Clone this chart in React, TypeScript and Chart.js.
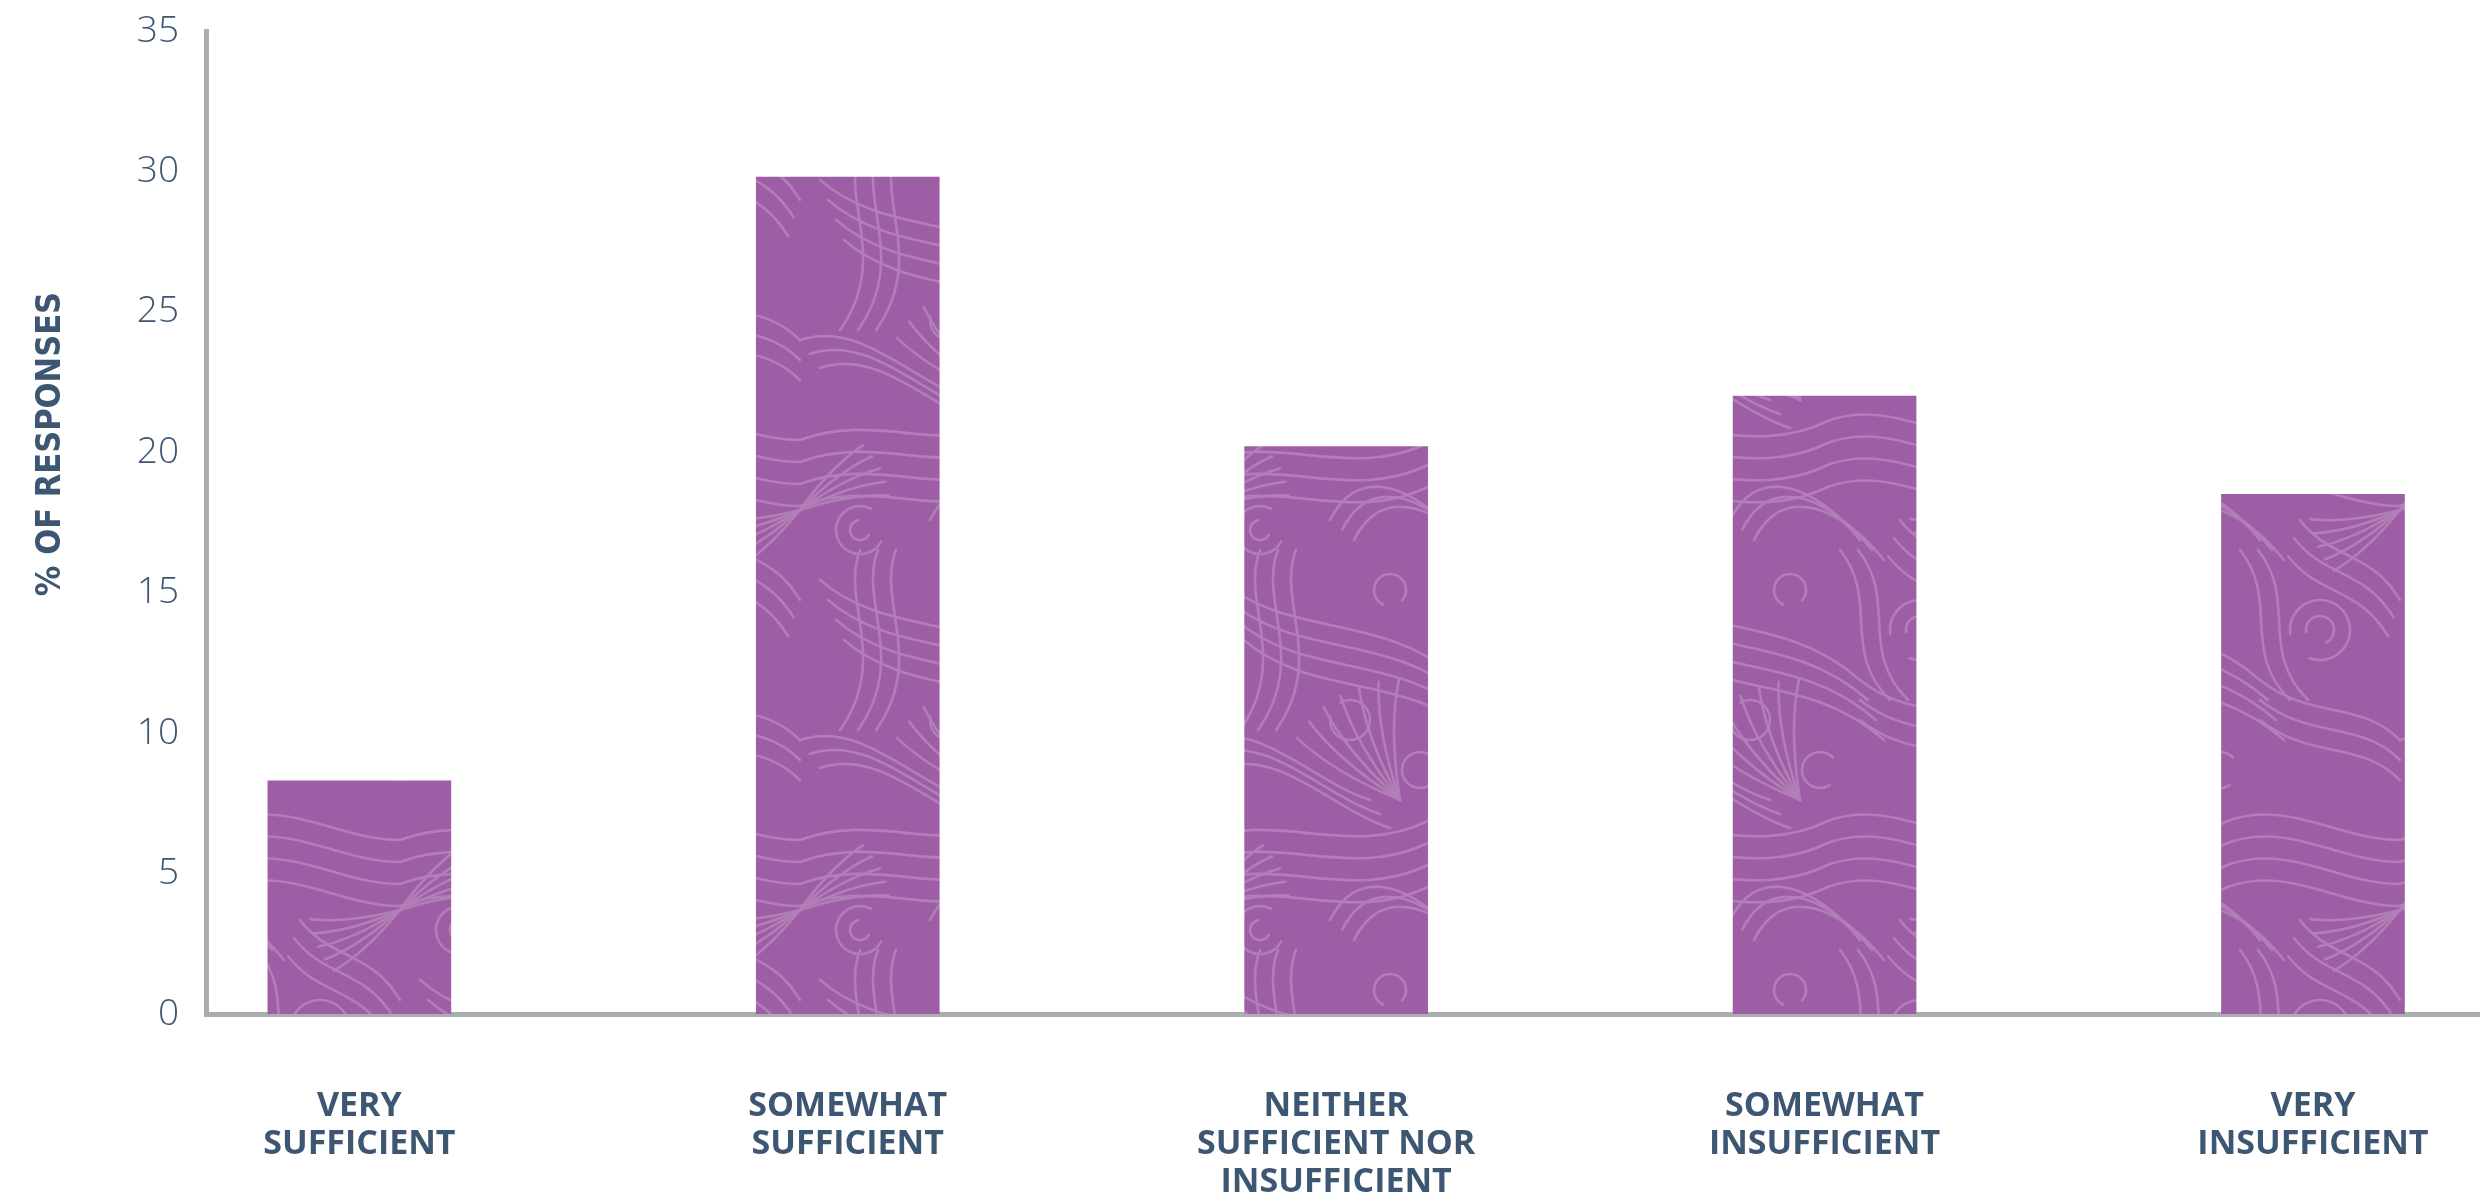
import { useEffect, useRef } from "react";
import { Chart, registerables } from "chart.js";
Chart.register(...registerables);

const categories: string[][] = [
  ["VERY", "SUFFICIENT"],
  ["SOMEWHAT", "SUFFICIENT"],
  ["NEITHER", "SUFFICIENT NOR", "INSUFFICIENT"],
  ["SOMEWHAT", "INSUFFICIENT"],
  ["VERY", "INSUFFICIENT"],
];
const responses: number[] = [8.3, 29.8, 20.2, 22.0, 18.5];
const yTicks: number[] = [0, 5, 10, 15, 20, 25, 30, 35];
const yTitle = "% OF RESPONSES";

const TEXT = "#3d5672";
const AXIS = "#a9aeb1";
const BAR = "#9e5ea6";
const SWIRL = "#b17eb8";

function makePattern(): CanvasPattern | string {
  const S = 400;
  const c = document.createElement("canvas");
  c.width = S;
  c.height = S;
  const g = c.getContext("2d");
  if (!g) return BAR;
  g.fillStyle = BAR;
  g.fillRect(0, 0, S, S);
  g.strokeStyle = SWIRL;
  g.lineWidth = 2.6;
  g.lineCap = "round";
  const offs = [-S, 0, S];
  const each = (fn: () => void) => {
    for (const dx of offs)
      for (const dy of offs) {
        g.save();
        g.translate(dx, dy);
        fn();
        g.restore();
      }
  };
  const bez = (p: number[]) => {
    g.beginPath();
    g.moveTo(p[0], p[1]);
    g.bezierCurveTo(p[2], p[3], p[4], p[5], p[6], p[7]);
    g.stroke();
  };
  const family = (p: number[], n: number, dx: number, dy: number) => {
    for (let k = 0; k < n; k++) {
      bez(p.map((v, i) => v + (i % 2 === 0 ? dx * k : dy * k)));
    }
  };
  const curl = (cx: number, cy: number, r: number, a0: number, a1: number) => {
    g.beginPath();
    g.arc(cx, cy, r, a0, a1);
    g.stroke();
  };
  const fan = (x: number, y: number, len: number, a0: number, step: number, n: number) => {
    for (let k = 0; k < n; k++) {
      const a = a0 + k * step;
      g.beginPath();
      g.moveTo(x, y);
      g.quadraticCurveTo(
        x + Math.cos(a - 0.15) * len * 0.6,
        y + Math.sin(a - 0.15) * len * 0.6,
        x + Math.cos(a) * len,
        y + Math.sin(a) * len
      );
      g.stroke();
    }
  };
  each(() => {
    family([0, 40, 80, 10, 150, 60, 230, 20], 4, 0, 22);
    family([230, 20, 290, 0, 340, 40, 400, 40], 4, 0, 22);
    family([20, 180, 90, 240, 180, 210, 260, 280], 4, 8, 20);
    family([260, 280, 310, 320, 360, 300, 400, 340], 3, 0, 20);
    family([0, 340, 60, 320, 110, 380, 170, 400], 3, 10, 14);
    family([300, 120, 330, 160, 370, 150, 400, 200], 3, -6, 18);
    family([130, 120, 160, 60, 220, 90, 260, 140], 3, 12, 10);
    family([60, 150, 40, 200, 90, 260, 40, 330], 3, 18, 0);
    family([240, 150, 280, 200, 240, 250, 290, 300], 2, 18, 0);
    curl(60, 130, 24, 0.5, 5.2);
    curl(60, 130, 10, 0.5, 4.5);
    curl(320, 230, 30, 3.0, 8.2);
    curl(320, 230, 14, 3.0, 7.4);
    curl(150, 320, 20, 4.2, 9.6);
    curl(220, 370, 18, 1.0, 5.5);
    curl(190, 190, 16, 2.0, 7.0);
    fan(200, 400, 120, -2.6, 0.17, 7);
    fan(400, 110, 90, 2.4, 0.16, 5);
    fan(0, 110, 90, -0.8, 0.16, 5);
  });
  const p = g.createPattern(c, "repeat");
  return p || BAR;
}

const yTitlePlugin = {
  id: "yTitlePlugin",
  afterDraw(chart: Chart) {
    const ctx = chart.ctx;
    ctx.save();
    ctx.translate(51, 444);
    ctx.rotate(-Math.PI / 2);
    ctx.font = "bold 34px 'Liberation Sans Narrow', 'DejaVu Sans Condensed', sans-serif";
    ctx.fillStyle = TEXT;
    ctx.textAlign = "center";
    ctx.textBaseline = "middle";
    ctx.fillText(yTitle, 0, 0);
    ctx.restore();
  },
};

export default function App() {
  const ref = useRef<HTMLCanvasElement | null>(null);
  useEffect(() => {
    document.body.style.margin = "0";
    if (!ref.current) return;
    const pattern = makePattern();
    const chart = new Chart(ref.current, {
      type: "bar",
      data: {
        datasets: [
          {
            data: responses.map((v, i) => ({ x: i, y: v })),
            backgroundColor: pattern as any,
            borderWidth: 0,
            barThickness: 183,
          },
        ],
      },
      options: {
        animation: false,
        responsive: true,
        maintainAspectRatio: false,
        layout: { padding: { top: 31, right: 0, left: 0, bottom: 0 } },
        plugins: { legend: { display: false }, tooltip: { enabled: false } },
        scales: {
          x: {
            type: "linear",
            offset: false,
            min: -0.314,
            max: 4.342,
            grid: { display: false, drawTicks: false, offset: false },
            border: { display: true, color: AXIS, width: 5 },
            afterBuildTicks: (scale: any) => {
              scale.ticks = categories.map((_, i) => ({ value: i }));
            },
            afterFit: (scale: any) => {
              scale.height = 183;
              scale.paddingLeft = 0;
              scale.paddingRight = 0;
            },
            ticks: {
              autoSkip: false,
              maxRotation: 0,
              padding: 73,
              color: TEXT,
              font: { family: "'Open Sans', sans-serif", size: 34, weight: "bold", lineHeight: 1.12 },
              callback: (v: any) => categories[Math.round(Number(v))] ?? "",
            },
          },
          y: {
            min: 0,
            max: 35,
            grid: { display: false, drawTicks: false },
            border: { display: true, color: AXIS, width: 5 },
            afterBuildTicks: (scale: any) => {
              scale.ticks = yTicks.map((v) => ({ value: v }));
            },
            afterFit: (scale: any) => {
              scale.width = 206;
              scale.paddingTop = 0;
              scale.paddingBottom = 0;
            },
            ticks: {
              padding: 27,
              color: TEXT,
              font: { family: "'Open Sans', sans-serif", size: 37, weight: "300" },
            },
          },
        },
      },
      plugins: [yTitlePlugin],
    });
    return () => chart.destroy();
  }, []);
  return (
    <div style={{ position: "relative", width: 2480, height: 1197, background: "#fff" }}>
      <canvas ref={ref} />
    </div>
  );
}
